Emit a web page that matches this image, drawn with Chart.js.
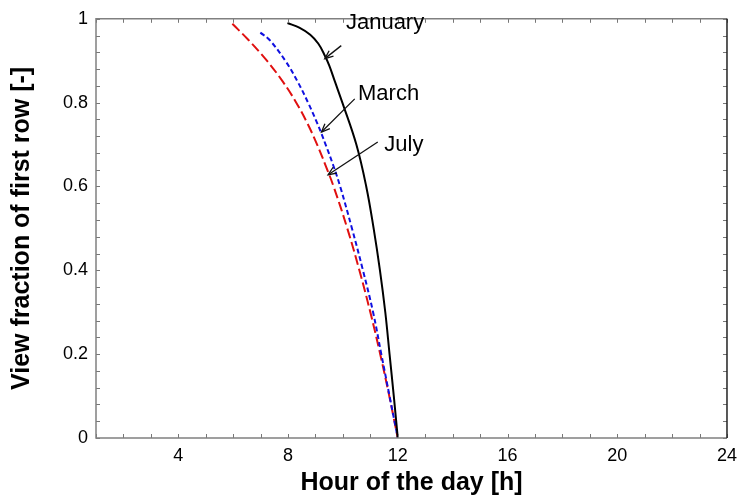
<!DOCTYPE html>
<html>
<head>
<meta charset="utf-8">
<script src="https://cdn.jsdelivr.net/npm/chart.js@4.4.1/dist/chart.umd.min.js"></script>
<style>
  html, body { margin: 0; padding: 0; background: #fff; }
  #wrap { width: 744px; height: 503px; }
</style>
</head>
<body>
<div id="wrap"><canvas id="grafico"></canvas></div>
<script>
// valores (hora do dia, fração de vista)
const horasJan = [7.98, 8.41, 8.81, 9.10, 9.32, 9.50, 9.71, 9.98, 10.49, 10.85, 11.12, 11.35, 11.545, 11.70, 11.855, 12];
const vistaJan = [0.99, 0.979, 0.962, 0.941, 0.915, 0.889, 0.85, 0.8, 0.7, 0.6, 0.5, 0.4, 0.3, 0.2, 0.1, 0];
const horasMar = [6.99, 7.32, 7.9, 8.35, 8.73, 9.07, 9.37, 9.65, 9.9, 10.33, 10.73, 11.1, 11.4, 11.7, 12];
const vistaMar = [0.967, 0.95, 0.9, 0.85, 0.8, 0.75, 0.7, 0.65, 0.6, 0.5, 0.4, 0.3, 0.2, 0.1, 0];
const horasJul = [5.97, 6.55, 7.23, 7.81, 8.30, 8.71, 9.06, 9.37, 9.66, 10.16, 10.6, 11.0, 11.36, 11.69, 12];
const vistaJul = [0.988, 0.95, 0.9, 0.85, 0.8, 0.75, 0.7, 0.65, 0.6, 0.5, 0.4, 0.3, 0.2, 0.1, 0];

const xLabels = [4, 8, 12, 16, 20, 24];
const yLabels = [0, 0.2, 0.4, 0.6, 0.8, 1];

// rótulos com seta: texto, âncora do texto, cauda e ponta da seta (em unidades dos eixos)
const rotulos = ['January', 'March', 'July'];
const rotuloPos = [[10.11, 0.99], [10.55, 0.82], [11.51, 0.70]];
const setaDe = [[9.94, 0.936], [10.43, 0.809], [11.27, 0.706]];
const setaPara = [[9.34, 0.905], [9.22, 0.73], [9.46, 0.628]];

const FONTE = '"Liberation Sans", Arial, sans-serif';

function pares(xs, ys) {
  return xs.map((x, i) => ({ x, y: ys[i] }));
}

const eixosPlugin = {
  id: 'eixos',
  afterDraw(chart) {
    const { ctx, chartArea: a, scales: { x, y } } = chart;
    ctx.save();
    // ticks para dentro nos quatro lados
    ctx.strokeStyle = '#777';
    ctx.lineWidth = 1;
    ctx.beginPath();
    x.ticks.forEach(t => {
      const px = Math.round(x.getPixelForValue(t.value)) + 0.5;
      ctx.moveTo(px, a.bottom); ctx.lineTo(px, a.bottom - 4);
      ctx.moveTo(px, a.top); ctx.lineTo(px, a.top + 4);
    });
    y.ticks.forEach(t => {
      const py = Math.round(y.getPixelForValue(t.value)) + 0.5;
      ctx.moveTo(a.left, py); ctx.lineTo(a.left + 4, py);
      ctx.moveTo(a.right, py); ctx.lineTo(a.right - 4, py);
    });
    ctx.stroke();
    // moldura
    ctx.strokeStyle = '#808080';
    ctx.lineWidth = 1.5;
    ctx.beginPath();
    ctx.moveTo(a.right, a.top); ctx.lineTo(a.left, a.top);
    ctx.lineTo(a.left, a.bottom); ctx.lineTo(a.right, a.bottom);
    ctx.stroke();
    ctx.strokeStyle = '#222';
    ctx.beginPath();
    ctx.moveTo(a.right, a.top); ctx.lineTo(a.right, a.bottom);
    ctx.stroke();

    // setas e textos
    ctx.fillStyle = '#000';
    ctx.strokeStyle = '#111';
    ctx.lineWidth = 1.3;
    ctx.font = '22px ' + FONTE;
    ctx.textBaseline = 'middle';
    ctx.textAlign = 'left';
    rotulos.forEach((txt, i) => {
      const x0 = x.getPixelForValue(setaDe[i][0]), y0 = y.getPixelForValue(setaDe[i][1]);
      const x1 = x.getPixelForValue(setaPara[i][0]), y1 = y.getPixelForValue(setaPara[i][1]);
      ctx.beginPath(); ctx.moveTo(x0, y0); ctx.lineTo(x1, y1); ctx.stroke();
      const ang = Math.atan2(y1 - y0, x1 - x0);
      const L = 9, W = 0.4;
      ctx.beginPath();
      ctx.moveTo(x1 - L * Math.cos(ang - W), y1 - L * Math.sin(ang - W));
      ctx.lineTo(x1, y1);
      ctx.lineTo(x1 - L * Math.cos(ang + W), y1 - L * Math.sin(ang + W));
      ctx.stroke();
      ctx.fillText(txt, x.getPixelForValue(rotuloPos[i][0]), y.getPixelForValue(rotuloPos[i][1]));
    });
    ctx.restore();
  }
};

const ctx = document.getElementById('grafico').getContext('2d');
const chart = new Chart(ctx, {
  type: 'line',
  data: {
    datasets: [
      {
        label: 'January',
        data: pares(horasJan, vistaJan),
        borderColor: '#000',
        borderWidth: 2,
        pointRadius: 0,
        tension: 0.4
      },
      {
        label: 'March',
        data: pares(horasMar, vistaMar),
        borderColor: '#1010e0',
        borderWidth: 2,
        borderDash: [5, 3],
        pointRadius: 0,
        tension: 0.4
      },
      {
        label: 'July',
        data: pares(horasJul, vistaJul),
        borderColor: '#e01010',
        borderWidth: 2,
        borderDash: [10, 4],
        pointRadius: 0,
        tension: 0.4
      }
    ]
  },
  options: {
    responsive: true,
    maintainAspectRatio: false,
    animation: false,
    layout: { padding: { top: 16, right: 12, left: 0, bottom: 0 } },
    plugins: {
      legend: { display: false },
      tooltip: { enabled: false }
    },
    scales: {
      x: {
        type: 'linear',
        min: 1,
        max: 24,
        grid: { display: false, drawTicks: false },
        border: { display: false },
        ticks: {
          stepSize: 1,
          autoSkip: false,
          maxRotation: 0,
          padding: 7,
          color: '#000',
          font: { family: FONTE, size: 18 },
          callback: v => xLabels.includes(v) ? String(v) : ''
        },
        title: {
          display: true,
          text: 'Hour of the day [h]',
          color: '#000',
          font: { family: FONTE, size: 25, weight: 'bold' },
          padding: { top: 0, bottom: 5 }
        },
        afterFit: s => { s.height = 65; }
      },
      y: {
        min: 0,
        max: 1,
        grid: { display: false, drawTicks: false },
        border: { display: false },
        ticks: {
          stepSize: 0.04,
          autoSkip: false,
          padding: 8,
          color: '#000',
          font: { family: FONTE, size: 18 },
          callback: v => {
            const r = Math.round(v * 10) / 10;
            return yLabels.some(l => Math.abs(l - v) < 1e-6) ? String(r) : '';
          }
        },
        title: {
          display: true,
          text: 'View fraction of first row [-]',
          color: '#000',
          font: { family: FONTE, size: 25, weight: 'bold' },
          padding: { top: 7, bottom: 0 }
        },
        afterFit: s => { s.width = 96; }
      }
    }
  },
  plugins: [eixosPlugin]
});
</script>
</body>
</html>
